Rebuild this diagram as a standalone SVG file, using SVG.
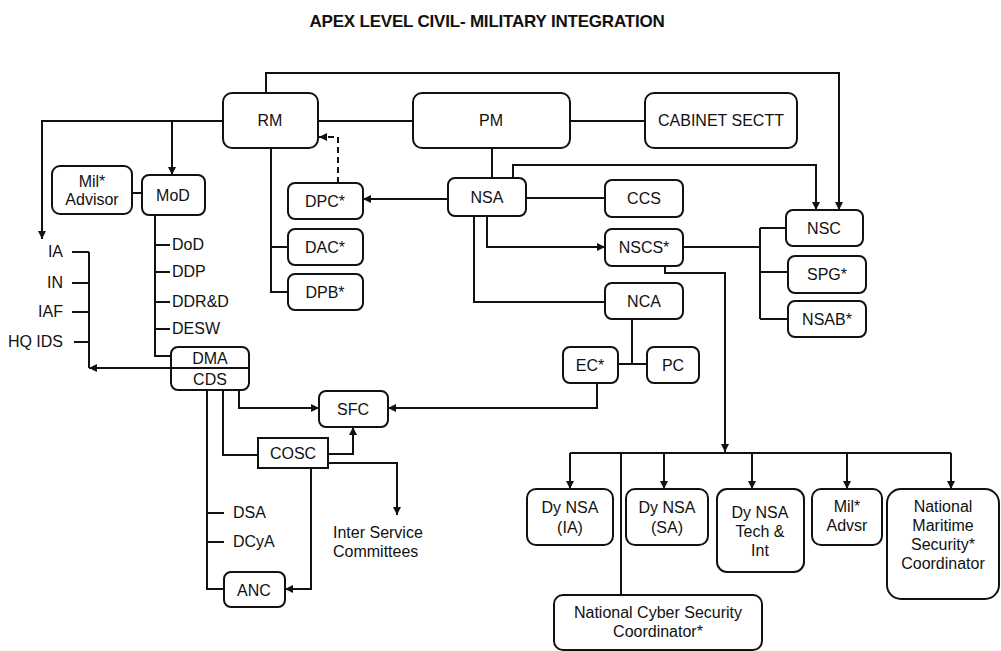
<svg xmlns="http://www.w3.org/2000/svg" width="1001" height="651" viewBox="0 0 1001 651">
<defs>
<marker id="arr" viewBox="0 0 10 10" refX="10" refY="5" markerWidth="8" markerHeight="8" markerUnits="userSpaceOnUse" orient="auto">
<path d="M0,0 L10,5 L0,10 Z" fill="#111"/>
</marker>
<style>
.box{fill:#fff;stroke:#111;stroke-width:2}
.t{font-family:"Liberation Sans",Arial,sans-serif;font-size:16px;fill:#111;text-anchor:middle}
.l{font-family:"Liberation Sans",Arial,sans-serif;font-size:16px;fill:#111}
.c{fill:none;stroke:#111;stroke-width:2}
.a{fill:none;stroke:#111;stroke-width:2;marker-end:url(#arr)}
.d{fill:none;stroke:#111;stroke-width:2;stroke-dasharray:6,4;marker-end:url(#arr)}
.title{font-family:"Liberation Sans",Arial,sans-serif;font-size:17px;font-weight:bold;fill:#111;text-anchor:middle;letter-spacing:-0.2px}
</style>
</defs>
<rect width="1001" height="651" fill="#fff"/>
<text class="title" x="487" y="27">APEX LEVEL CIVIL- MILITARY INTEGRATION</text>

<g id="connectors">
<path class="a" d="M266,93 V73 H839 V210"/>
<path class="a" d="M223,121 H42 V239"/>
<path class="a" d="M172,121 V175"/>
<path class="c" d="M132,193 H142"/>
<path class="c" d="M318,121 H413"/>
<path class="c" d="M570,121 H645"/>
<path class="c" d="M492,148 V178"/>
<path class="a" d="M513,178 V165 H816 V210"/>
<path class="a" d="M448,199 H363"/>
<path class="d" d="M338,183 V137 H319"/>
<path class="c" d="M526,198 H605"/>
<path class="c" d="M271,148 V292 H288 M271,247 H288"/>
<path class="a" d="M487,216 V247 H605"/>
<path class="c" d="M474,216 V302 H605"/>
<path class="c" d="M683,247 H760 M760,228 V319 M760,228 H786 M760,272 H788 M760,319 H788"/>
<path class="a" d="M665,266 V273 H725 V452"/>
<path class="c" d="M570,453 H951"/>
<path class="a" d="M570,453 V489"/>
<path class="a" d="M664,453 V489"/>
<path class="a" d="M752,453 V489"/>
<path class="a" d="M847,453 V489"/>
<path class="a" d="M951,453 V489"/>
<path class="c" d="M621,453 V595"/>
<path class="c" d="M632,319 V364 M618,364 H647"/>
<path class="a" d="M597,383 V408 H388"/>
<path class="c" d="M155,215 V356 H171 M155,245 H170 M155,272 H170 M155,302 H170 M155,329 H170"/>
<path class="a" d="M171,368 H89"/>
<path class="c" d="M89,252 V368 M72,252 H89 M72,283 H89 M72,312 H89 M74,342 H89"/>
<path class="a" d="M239,390 V408 H319"/>
<path class="c" d="M223,390 V455 H258"/>
<path class="c" d="M207,390 V589 H224 M207,513 H224 M207,542 H224"/>
<path class="a" d="M328,454 H353 V427"/>
<path class="a" d="M328,463 H397 V515"/>
<path class="a" d="M311,468 V589 H285"/>
</g>

<g id="rm"><rect class="box" x="223" y="93" width="95" height="55" rx="9"/><text class="t" x="270" y="126">RM</text></g>
<g id="pm"><rect class="box" x="413" y="93" width="157" height="55" rx="9"/><text class="t" x="491" y="126">PM</text></g>
<g id="cabinet"><rect class="box" x="645" y="93" width="152" height="55" rx="9"/><text class="t" x="721" y="126">CABINET SECTT</text></g>
<g id="mil-advisor"><rect class="box" x="52" y="166" width="80" height="48" rx="8"/><text class="t" x="92" y="187">Mil*</text><text class="t" x="92" y="205">Advisor</text></g>
<g id="mod"><rect class="box" x="142" y="175" width="63" height="40" rx="7"/><text class="t" x="173" y="201">MoD</text></g>
<g id="dpc"><rect class="box" x="288" y="183" width="75" height="36" rx="7"/><text class="t" x="325" y="207">DPC*</text></g>
<g id="dac"><rect class="box" x="288" y="229" width="75" height="36" rx="7"/><text class="t" x="325" y="253">DAC*</text></g>
<g id="dpb"><rect class="box" x="288" y="274" width="75" height="36" rx="7"/><text class="t" x="325" y="298">DPB*</text></g>
<g id="nsa"><rect class="box" x="448" y="178" width="78" height="38" rx="7"/><text class="t" x="487" y="203">NSA</text></g>
<g id="ccs"><rect class="box" x="605" y="180" width="78" height="37" rx="7"/><text class="t" x="644" y="204">CCS</text></g>
<g id="nscs"><rect class="box" x="605" y="229" width="78" height="37" rx="7"/><text class="t" x="644" y="253">NSCS*</text></g>
<g id="nca"><rect class="box" x="605" y="283" width="78" height="36" rx="7"/><text class="t" x="644" y="307">NCA</text></g>
<g id="nsc"><rect class="box" x="786" y="210" width="77" height="36" rx="7"/><text class="t" x="824" y="234">NSC</text></g>
<g id="spg"><rect class="box" x="788" y="256" width="78" height="37" rx="7"/><text class="t" x="827" y="280">SPG*</text></g>
<g id="nsab"><rect class="box" x="788" y="301" width="78" height="36" rx="7"/><text class="t" x="827" y="325">NSAB*</text></g>
<g id="ec"><rect class="box" x="563" y="347" width="55" height="36" rx="7"/><text class="t" x="590" y="371">EC*</text></g>
<g id="pc"><rect class="box" x="647" y="347" width="52" height="36" rx="7"/><text class="t" x="673" y="371">PC</text></g>
<g id="dma-cds"><rect class="box" x="171" y="347" width="78" height="43" rx="7"/><path class="c" d="M171,368 H249"/><text class="t" x="210" y="364">DMA</text><text class="t" x="210" y="385">CDS</text></g>
<g id="sfc"><rect class="box" x="319" y="391" width="69" height="36" rx="7"/><text class="t" x="353" y="415">SFC</text></g>
<g id="cosc"><rect class="box" x="258" y="438" width="70" height="30"/><text class="t" x="293" y="459">COSC</text></g>
<g id="anc"><rect class="box" x="224" y="572" width="61" height="35" rx="7"/><text class="t" x="254" y="596">ANC</text></g>
<g id="dynsa-ia"><rect class="box" x="527" y="489" width="86" height="56" rx="9"/><text class="t" x="570" y="513">Dy NSA</text><text class="t" x="570" y="533">(IA)</text></g>
<g id="dynsa-sa"><rect class="box" x="626" y="489" width="82" height="56" rx="9"/><text class="t" x="667" y="513">Dy NSA</text><text class="t" x="667" y="533">(SA)</text></g>
<g id="dynsa-tech"><rect class="box" x="717" y="489" width="87" height="83" rx="10"/><text class="t" x="760" y="518">Dy NSA</text><text class="t" x="760" y="537">Tech &amp;</text><text class="t" x="760" y="556">Int</text></g>
<g id="mil-advsr"><rect class="box" x="812" y="489" width="70" height="56" rx="9"/><text class="t" x="847" y="512">Mil*</text><text class="t" x="847" y="531">Advsr</text></g>
<g id="nmsc"><rect class="box" x="887" y="489" width="112" height="110" rx="14"/><text class="t" x="943" y="512">National</text><text class="t" x="943" y="531">Maritime</text><text class="t" x="943" y="550">Security*</text><text class="t" x="943" y="569">Coordinator</text></g>
<g id="ncsc"><rect class="box" x="554" y="595" width="208" height="55" rx="9"/><text class="t" x="658" y="618">National Cyber Security</text><text class="t" x="658" y="637">Coordinator*</text></g>

<g id="labels">
<text class="l" x="63" y="257" text-anchor="end">IA</text>
<text class="l" x="63" y="288" text-anchor="end">IN</text>
<text class="l" x="63" y="317" text-anchor="end">IAF</text>
<text class="l" x="63" y="347" text-anchor="end">HQ IDS</text>
<text class="l" x="172" y="250">DoD</text>
<text class="l" x="172" y="277">DDP</text>
<text class="l" x="172" y="307">DDR&amp;D</text>
<text class="l" x="172" y="334">DESW</text>
<text class="l" x="233" y="518">DSA</text>
<text class="l" x="233" y="547">DCyA</text>
<text class="l" x="333" y="538">Inter Service</text>
<text class="l" x="333" y="557">Committees</text>
</g>
</svg>
